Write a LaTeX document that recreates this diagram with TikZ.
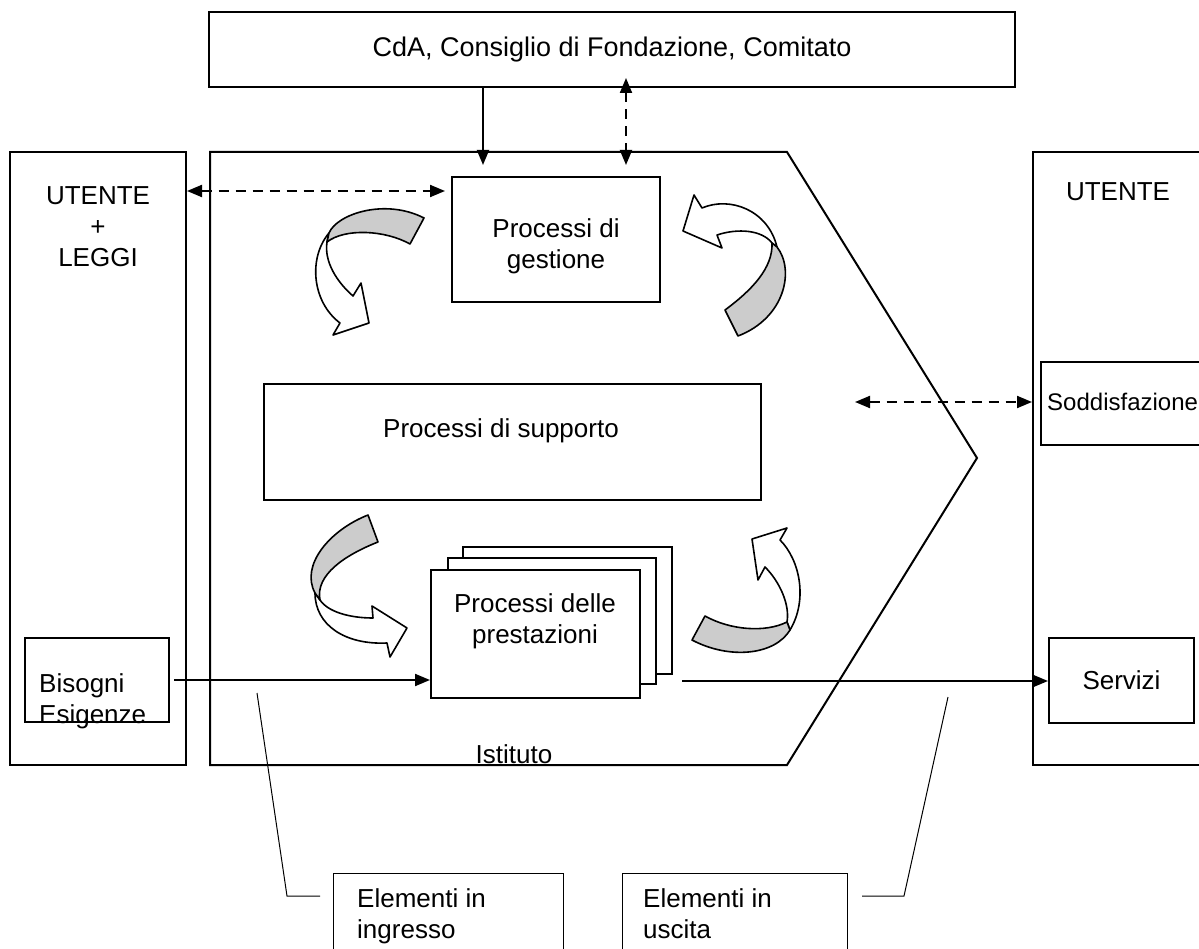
\documentclass[tikz,border=0pt]{standalone}
\usepackage{fontspec}
\setmainfont{Liberation Sans}
\usetikzlibrary{arrows.meta}
\newcommand\pxfont[1]{\fontsize{#1}{31}\selectfont}
\tikzset{
  box/.style={draw,line width=2pt,inner sep=0pt},
  txt/.style={inner sep=0pt,align=center,font=\pxfont{26}},
  flow/.style={line width=2pt,-{Triangle[length=15pt,width=12pt]}},
  ask/.style={line width=2pt,dash pattern=on 10pt off 7pt,
    {Triangle[length=15pt,width=12pt]}-{Triangle[length=15pt,width=12pt]}},
  leader/.style={line width=1pt},
  turn/.style={draw,line width=1.6pt,line join=round,fill=white},
  twist/.style={turn,fill=black!20}
}
\begin{document}
\begin{tikzpicture}[x=1pt,y=-1pt]
  \useasboundingbox (0,0) rectangle (1199,949);
  \clip (0,0) rectangle (1199,949);
  \node[box,minimum width=806,minimum height=75,font=\pxfont{27}] (board) at (612,49.5)
    {CdA, Consiglio di Fondazione, Comitato};
  \node[box,minimum width=176,minimum height=613] (userL) at (98,458.5) {};
  \node[txt] (userLtxt) at (98,227) {UTENTE\\+\\LEGGI};
  \node[box,minimum width=187,minimum height=613] (userR) at (1126.5,458.5) {};
  \node[txt] (userRtxt) at (1118,192) {UTENTE};
  \draw[line width=2pt] (210,152) -- (787,152) -- (977,458) -- (787,765) -- (210,765) -- cycle;
  \node[txt] (inst) at (514,754) {Istituto};
  \node[box,minimum width=208,minimum height=125] (process) at (556,239.5) {};
  \node[txt] (processtxt) at (556,246) {Processi di\\gestione};
  \node[box,minimum width=497,minimum height=116] (support) at (512.5,442) {};
  \node[txt] (supporttxt) at (501,431) {Processi di supporto};
  \node[box,fill=white,minimum width=209,minimum height=127] (stack3) at (567.5,610.5) {};
  \node[box,fill=white,minimum width=208,minimum height=126] (stack2) at (552,621) {};
  \node[box,fill=white,minimum width=209,minimum height=128] (front) at (535.5,634) {};
  \node[txt] (fronttxt) at (535,621) {Processi delle\\prestazioni};
  \node[box,minimum width=144,minimum height=84] (needs) at (97,680) {};
  \node[txt,align=left,anchor=north west] (needstxt) at (39,673) {Bisogni\\Esigenze};
  \node[box,minimum width=170,minimum height=83] (sat) at (1126,403.5) {};
  \node[txt,font=\pxfont{24},anchor=west] (sattxt) at (1047,402) {Soddisfazione};
  \node[box,font=\pxfont{26},minimum width=145,minimum height=85] (services) at (1121.5,680) {Servizi};
  \node[box,line width=1pt,minimum width=230,minimum height=107] (inbox) at (448,926.5) {};
  \node[txt,align=left,anchor=north west] (inboxtxt) at (357,888) {Elementi in\\ingresso};
  \node[box,line width=1pt,minimum width=225,minimum height=107] (outbox) at (734.5,926.5) {};
  \node[txt,align=left,anchor=north west] (outboxtxt) at (643,888) {Elementi in\\uscita};
  \draw[turn] (329,233) .. controls (308,258) and (312,302) .. (340,323) -- (333,335) -- (369,323) -- (361,283) -- (353,296) .. controls (337,282) and (324,262) .. (327,242) -- cycle;
  \draw[twist] (329,233) .. controls (337,214) and (385,198) .. (424,218) -- (410,244) .. controls (385,230) and (345,228) .. (327,242) -- cycle;
  \draw[turn] (777,247) .. controls (768,210) and (730,196) .. (702,208) -- (694,195) -- (683,231) -- (722,248) -- (717,235) .. controls (738,228) and (762,230) .. (772,243) -- cycle;
  \draw[twist] (725,310) .. controls (752,290) and (773,268) .. (772,243) -- (777,247) .. controls (795,270) and (785,318) .. (738,336) -- cycle;
  \draw[turn] (315,593) .. controls (315,625) and (345,645) .. (387,643) -- (390,657) -- (407,628) -- (372,606) -- (373,618) .. controls (350,618) and (328,612) .. (320,600) -- cycle;
  \draw[twist] (368,515) .. controls (330,530) and (300,565) .. (315,593) -- (320,600) .. controls (315,575) and (345,555) .. (378,542) -- cycle;
  \draw[turn] (790,630) .. controls (808,600) and (800,560) .. (780,540) -- (787,528) -- (752,539) -- (758,580) -- (765,567) .. controls (780,582) and (790,605) .. (787,622) -- cycle;
  \draw[twist] (705,616) .. controls (730,630) and (765,633) .. (787,622) -- (790,630) .. controls (775,655) and (730,660) .. (692,640) -- cycle;
  \coordinate (ctrlDown) at (483,165);
  \coordinate (ctrlLow) at (626,165);
  \coordinate (ctrlHigh) at (626,78);
  \coordinate (askL) at (187,191);
  \coordinate (askR) at (855,402);
  \coordinate (outStart) at (682,681);
  \coordinate (inTop) at (257,693);
  \coordinate (inBend) at (287,896);
  \coordinate (inEnd) at (320,896);
  \coordinate (outTop) at (948,697);
  \coordinate (outBend) at (904,896);
  \coordinate (outEnd) at (862,896);
  \begin{scope}
    \draw[flow] (board.south -| ctrlDown) -- (ctrlDown);
    \draw[ask] (ctrlHigh) -- (ctrlLow);
    \draw[ask,shorten >=6pt] (askL) -- (askL -| process.west);
    \draw[ask] (askR) -- (askR -| userR.west);
    \draw[flow,shorten <=4pt] (needs.east) -- (needs.east -| front.west);
    \draw[flow] (outStart) -- (outStart -| services.west);
    \draw[leader] (inTop) -- (inBend) -- (inEnd);
    \draw[leader] (outTop) -- (outBend) -- (outEnd);
  \end{scope}
\end{tikzpicture}
\end{document}
